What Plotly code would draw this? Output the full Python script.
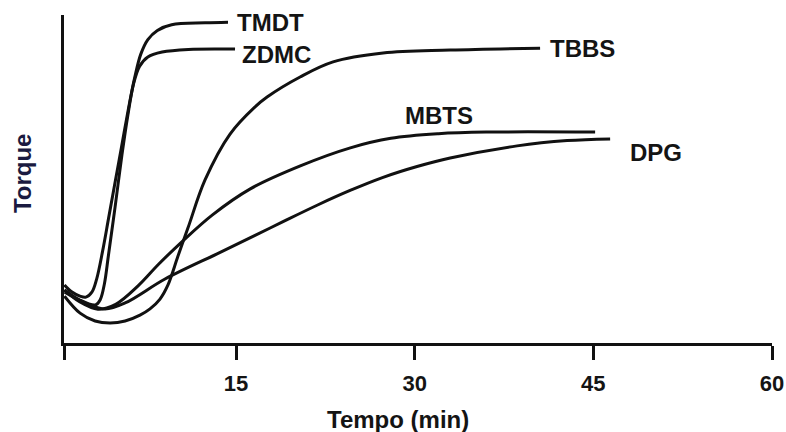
import plotly.graph_objects as go

# Curve data (time in min, torque in arbitrary units 0-100)
tmdt_t = [0.6, 1.2, 1.9, 2.4, 2.9, 3.3, 3.8, 4.3, 4.8, 5.4, 6.0, 6.5, 7.0, 7.6, 8.4, 9.6, 12.4, 14.33]
tmdt_y = [17.7, 15.6, 14.3, 14.0, 15.5, 19.5, 28.0, 38.0, 48.0, 60.0, 72.0, 81.0, 88.0, 92.5, 95.3, 97.0, 97.6, 97.8]

zdmc_t = [0.6, 1.9, 3.2, 3.6, 3.95, 4.3, 4.85, 5.43, 5.9, 6.4, 6.9, 7.6, 8.8, 11.0, 14.92]
zdmc_y = [16.2, 13.1, 11.6, 13.2, 18.0, 27.0, 41.5, 57.5, 69.0, 79.0, 84.3, 87.2, 88.7, 89.5, 89.6]

tbbs_t = [0.6, 1.91, 3.17, 4.43, 5.69, 6.94, 7.78, 8.62, 9.29, 10.13, 10.97, 12.40, 14.50, 16.60, 17.61,
          20.38, 23.15, 27.35, 32.98, 40.53]
tbbs_y = [14.3, 9.1, 6.7, 6.1, 6.7, 8.5, 10.4, 13.4, 17.7, 26.5, 35.1, 49.7, 63.7, 72.0, 75.0,
          81.1, 85.7, 88.4, 89.3, 89.9]

mbts_t = [0.6, 1.9, 3.4, 4.9, 6.8, 8.5, 10.5, 13.0, 16.2, 20.4, 24.6, 28.0, 32.0, 36.0, 45.15]
mbts_y = [16.2, 12.5, 10.3, 11.8, 17.5, 24.0, 31.0, 39.0, 47.0, 54.0, 59.5, 62.4, 63.8, 64.3, 64.3]

dpg_t = [0.6, 2.33, 4.01, 5.69, 9.04, 13.41, 16.60, 18.95, 21.81, 24.58, 27.35, 30.20, 32.98, 38.60, 42.80, 46.41]
dpg_y = [15.5, 12.2, 10.4, 12.2, 19.5, 27.2, 32.8, 37.0, 42.0, 46.5, 50.5, 53.8, 56.4, 60.1, 61.7, 62.2]

series = [
    ("TMDT", tmdt_t, tmdt_y),
    ("ZDMC", zdmc_t, zdmc_y),
    ("TBBS", tbbs_t, tbbs_y),
    ("MBTS", mbts_t, mbts_y),
    ("DPG", dpg_t, dpg_y),
]

# Label anchor positions (data coords, left edge / middle)
label_names = ["TMDT", "ZDMC", "TBBS", "MBTS", "DPG"]
label_x = [14.92, 15.34, 41.2, 29.03, 47.9]
label_y = [97.6, 88.1, 89.9, 69.5, 58.2]

tick_vals = [0.56, 15, 30, 45, 60]
tick_text = ["", "15", "30", "45", "60"]

FONT = "Liberation Sans, Arial, sans-serif"
INK = "#141414"

fig = go.Figure()
for name, t, y in series:
    fig.add_trace(go.Scatter(x=t, y=y, mode="lines", name=name,
                             line=dict(color="#111111", width=3, shape="spline", smoothing=1.0),
                             showlegend=False, hoverinfo="skip"))

for n, lx, ly in zip(label_names, label_x, label_y):
    fig.add_annotation(x=lx, y=ly, xref="x", yref="y", text=n, showarrow=False,
                       xanchor="left", yanchor="middle",
                       font=dict(family=FONT, size=24, color=INK, weight="bold"))

# Axis titles
fig.add_annotation(x=0.472, y=-0.232, xref="paper", yref="paper", text="Tempo (min)",
                   showarrow=False, xanchor="center", yanchor="middle",
                   font=dict(family=FONT, size=24, color=INK, weight="bold"))
fig.add_annotation(x=-0.0593, y=0.518, xref="paper", yref="paper", text="Torque",
                   showarrow=False, xanchor="center", yanchor="middle", textangle=-90,
                   font=dict(family=FONT, size=24, color="#1a1a40", weight="bold"))

fig.update_layout(
    width=786, height=432,
    margin=dict(l=64, r=14, t=15, b=89),
    paper_bgcolor="white", plot_bgcolor="white",
    xaxis=dict(range=[0.56, 60], showgrid=False, zeroline=False, automargin=False,
               showline=True, linecolor="#111111", linewidth=3,
               tickmode="array", tickvals=tick_vals, ticktext=tick_text,
               ticks="outside", ticklen=14, tickwidth=3, tickcolor="#111111",
               ticklabelstandoff=5,
               tickfont=dict(family=FONT, size=22, color=INK, weight="bold")),
    yaxis=dict(range=[0, 100], showgrid=False, zeroline=False, automargin=False,
               showline=True, linecolor="#111111", linewidth=3,
               showticklabels=False, ticks=""),
)

fig.write_html(
    "out.html",
    config={"displayModeBar": False},
    post_script="document.documentElement.style.margin='0';document.body.style.margin='0';"
                "document.body.style.overflow='hidden';",
)
